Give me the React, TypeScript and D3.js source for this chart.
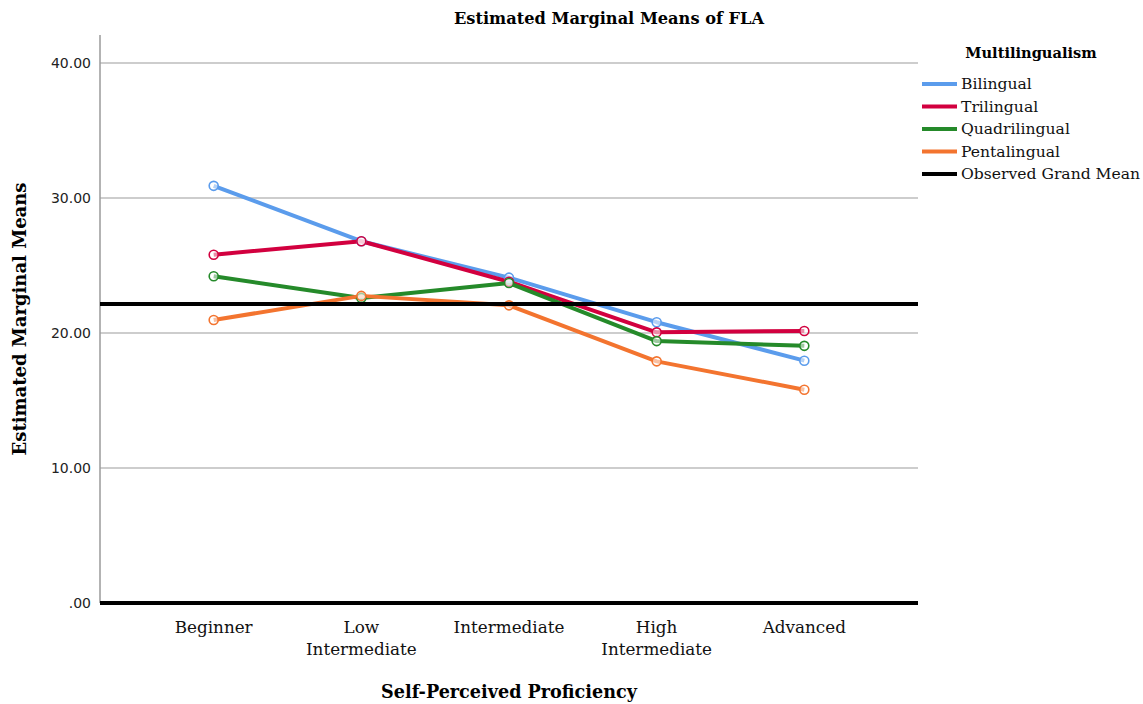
import React from "react";
import * as d3 from "d3";

const categories = ["Beginner", "Low Intermediate", "Intermediate", "High Intermediate", "Advanced"];
const categoryLines = [["Beginner"], ["Low", "Intermediate"], ["Intermediate"], ["High", "Intermediate"], ["Advanced"]];
const seriesNames = ["Bilingual", "Trilingual", "Quadrilingual", "Pentalingual"];
const seriesColors = ["#5b9cec", "#d2003f", "#258a2a", "#f3742f"];
const bilingual = [30.9, 26.8, 24.1, 20.8, 17.95];
const trilingual = [25.8, 26.8, 23.8, 20.05, 20.15];
const quadrilingual = [24.2, 22.6, 23.7, 19.4, 19.05];
const pentalingual = [20.96, 22.75, 22.05, 17.9, 15.8];
const grandMean = 22.15;
const yTicks = [0, 10, 20, 30, 40];

const seriesValues = [bilingual, trilingual, quadrilingual, pentalingual];

const W = 1143, H = 704;
const left = 100, right = 918, top = 35, bottom = 603;

export default function App() {
  const x = d3.scalePoint<string>().domain(categories).range([left, right]).padding(0.77);
  const y = d3.scaleLinear().domain([0, 40]).range([bottom, 63]);
  const line = d3.line<number>().x((_, i) => x(categories[i])!).y((v) => y(v));
  const fmt = (v: number) => (v === 0 ? ".00" : v.toFixed(2));
  const serif = "'DejaVu Serif', serif";
  const sans = "'DejaVu Sans', sans-serif";
  return (
    <svg width={W} height={H} style={{ position: "absolute", left: 0, top: 0, background: "#fff" }}>
      <rect width={W} height={H} fill="#fff" />
      <text x={609} y={24} textAnchor="middle" fontFamily={serif} fontWeight="bold" fontSize={16.2} fill="#000">
        Estimated Marginal Means of FLA
      </text>
      {yTicks.filter((t) => t > 0).map((t) => (
        <line key={t} x1={left} x2={right} y1={y(t)} y2={y(t)} stroke="#bdbdbd" strokeWidth={1.5} />
      ))}
      <line x1={left} x2={left} y1={top} y2={bottom} stroke="#9a9a9a" strokeWidth={1.5} />
      {yTicks.map((t) => (
        <text key={t} x={91} y={y(t) + 5} textAnchor="end" fontFamily={sans} fontSize={14} fill="#222">
          {fmt(t)}
        </text>
      ))}
      {categoryLines.map((ls, i) => (
        <text key={i} textAnchor="middle" fontFamily={serif} fontSize={16.8} fill="#111">
          {ls.map((l, j) => (
            <tspan key={j} x={x(categories[i])} y={633 + j * 22}>{l}</tspan>
          ))}
        </text>
      ))}
      <text x={509} y={698} textAnchor="middle" fontFamily={serif} fontWeight="bold" fontSize={17.6} fill="#000">
        Self-Perceived Proficiency
      </text>
      <text transform={`translate(26,${y(20) - 14}) rotate(-90)`} textAnchor="middle" fontFamily={serif} fontWeight="bold" fontSize={18} fill="#000">
        Estimated Marginal Means
      </text>
      {seriesValues.map((vals, s) => (
        <path key={s} d={line(vals)!} fill="none" stroke={seriesColors[s]} strokeWidth={4} strokeLinejoin="round" />
      ))}
      {seriesValues.map((vals, s) =>
        vals.map((v, i) => (
          <circle key={`${s}-${i}`} cx={x(categories[i])} cy={y(v)} r={4.5} fill="#fff" fillOpacity={0.55} stroke={seriesColors[s]} strokeWidth={1.6} />
        ))
      )}
      <line x1={left} x2={right} y1={y(grandMean)} y2={y(grandMean)} stroke="#000" strokeWidth={4} />
      <line x1={left} x2={right} y1={bottom} y2={bottom} stroke="#000" strokeWidth={4} />
      <text x={1031} y={58} textAnchor="middle" fontFamily={serif} fontWeight="bold" fontSize={14.6} fill="#000">
        Multilingualism
      </text>
      {[...seriesNames, "Observed Grand Mean"].map((n, i) => (
        <g key={n}>
          <line x1={922} x2={957} y1={84 + i * 22.5} y2={84 + i * 22.5} stroke={i < 4 ? seriesColors[i] : "#000"} strokeWidth={4} />
          <text x={961} y={89 + i * 22.5} fontFamily={serif} fontSize={15.6} fill="#111">{n}</text>
        </g>
      ))}
    </svg>
  );
}
